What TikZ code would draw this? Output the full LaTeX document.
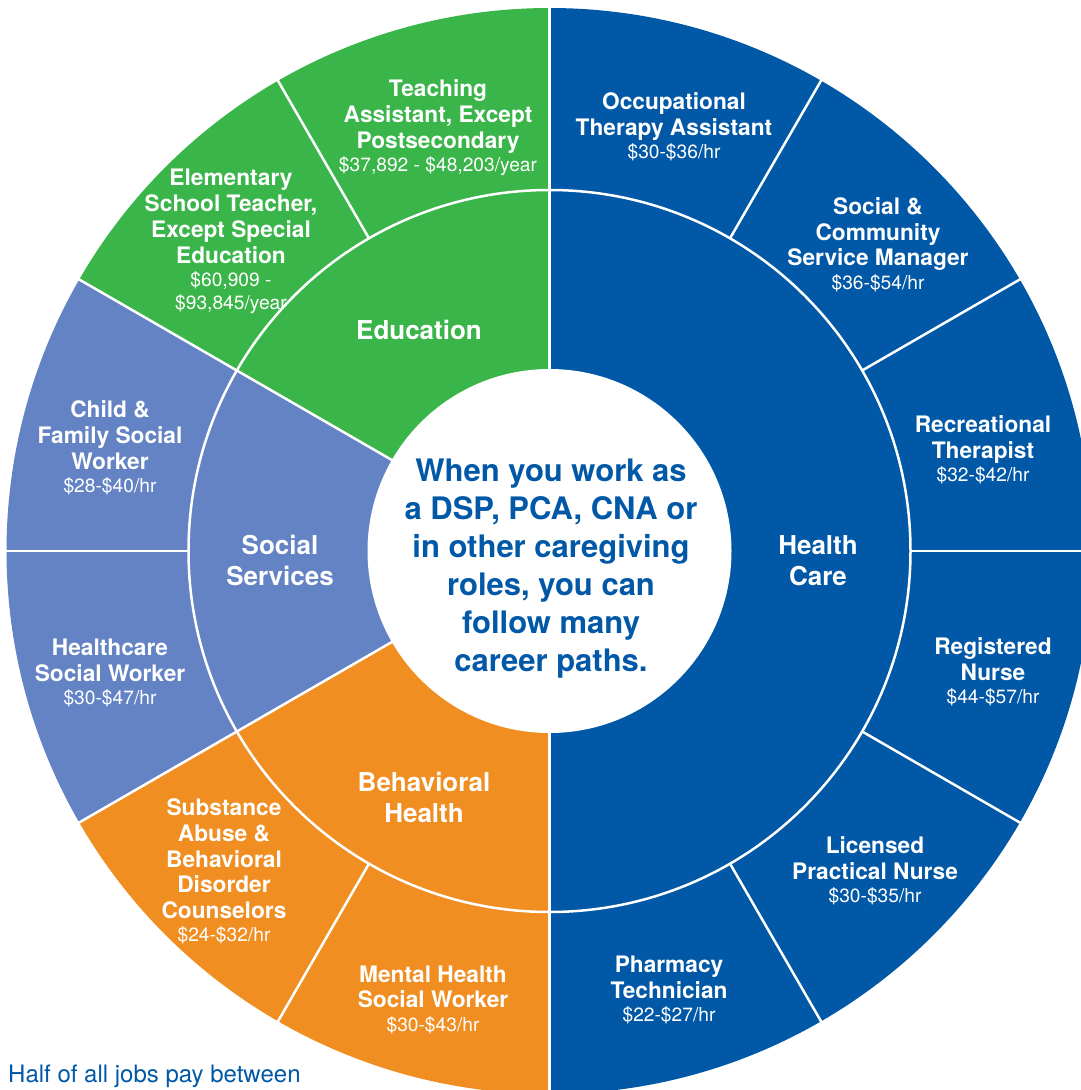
\documentclass[tikz,border=0pt]{standalone}
\usepackage{fontspec}
\setmainfont{TeX Gyre Heros}
\definecolor{hcblue}{RGB}{0,88,167}
\definecolor{edugreen}{RGB}{58,181,74}
\definecolor{ssblue}{RGB}{99,131,196}
\definecolor{bhorange}{RGB}{240,142,34}
\newcommand\salary[1]{{\mdseries\fontsize{19.2}{22}\selectfont #1}}
\begin{document}
\begin{tikzpicture}[x=1pt,y=1pt,
  sep/.style={draw=white,line width=2.5pt},
  joblab/.style={text=white,align=center,font=\bfseries\fontsize{22.7}{25.8}\selectfont,inner sep=0pt},
  catlab/.style={text=white,align=center,font=\bfseries\fontsize{26}{31}\selectfont,inner sep=0pt},
  hublab/.style={text=hcblue,align=center,font=\bfseries\fontsize{31}{38}\selectfont,inner sep=0pt},
  notelab/.style={text=hcblue,font=\fontsize{24}{28}\selectfont,inner sep=0pt,anchor=base west}]
\useasboundingbox (0,0) rectangle (1081,-1090);
\clip (0,0) rectangle (1081,-1090);
\coordinate (c) at (549.5,-551);
% category sectors
\fill[edugreen] (c) -- ++(90:543) arc[start angle=90,end angle=150,radius=543] -- cycle;
\fill[ssblue] (c) -- ++(150:543) arc[start angle=150,end angle=210,radius=543] -- cycle;
\fill[bhorange] (c) -- ++(210:543) arc[start angle=210,end angle=270,radius=543] -- cycle;
\fill[hcblue] (c) -- ++(270:543) arc[start angle=270,end angle=450,radius=543] -- cycle;
% separators
\foreach \a in {0,30,...,330}
  \draw[sep] ([shift={(\a:361)}]c) -- ([shift={(\a:548)}]c);
\draw[sep] (c) circle[radius=361];
\foreach \a in {90,150,210,270}
  \draw[sep] ([shift={(\a:180)}]c) -- ([shift={(\a:361)}]c);
\fill[white] (c) circle[radius=182];
% hub
\node[hublab] (hub) at (551,-569) {When you work as\\a DSP, PCA, CNA or\\in other caregiving\\roles, you can\\follow many\\career paths.};
% categories
\node[catlab] (edu) at (419,-330) {Education};
\node[catlab] (ss) at (280,-560.5) {Social\\Services};
\node[catlab] (bh) at (424,-797.5) {Behavioral\\Health};
\node[catlab] (hc) at (818,-560.5) {Health\\Care};
% jobs
\node[joblab] (ota) at (674,-126.5) {Occupational\\Therapy Assistant\\[-2.5pt]\salary{\$30-\$36/hr}};
\node[joblab] (scsm) at (878,-244.5) {Social \&\\Community\\Service Manager\\[-2.5pt]\salary{\$36-\$54/hr}};
\node[joblab] (rt) at (983,-449.5) {Recreational\\Therapist\\[-2.5pt]\salary{\$32-\$42/hr}};
\node[joblab] (rn) at (993,-672) {Registered\\Nurse\\[-2.5pt]\salary{\$44-\$57/hr}};
\node[joblab] (lpn) at (875,-870.5) {Licensed\\Practical Nurse\\[-2.5pt]\salary{\$30-\$35/hr}};
\node[joblab] (pt) at (669,-990) {Pharmacy\\Technician\\[-2.5pt]\salary{\$22-\$27/hr}};
\node[joblab] (mhsw) at (433,-999.5) {Mental Health\\Social Worker\\[-2.5pt]\salary{\$30-\$43/hr}};
\node[joblab] (sa) at (224,-871.5) {Substance\\Abuse \&\\Behavioral\\Disorder\\Counselors\\[-2.5pt]\salary{\$24-\$32/hr}};
\node[joblab] (hsw) at (110,-673) {Healthcare\\Social Worker\\[-2.5pt]\salary{\$30-\$47/hr}};
\node[joblab] (cfsw) at (110,-448) {Child \&\\Family Social\\Worker\\[-2.5pt]\salary{\$28-\$40/hr}};
\node[joblab] (est) at (231,-241.5) {Elementary\\School Teacher,\\Except Special\\Education\\[-2.5pt]\salary{\$60,909 -}\\[-3pt]\salary{\$93,845/year}};
\node[joblab] (ta) at (438,-128) {Teaching\\Assistant, Except\\Postsecondary\\[-2.5pt]\salary{\$37,892 - \$48,203/year}};
% note
\node[notelab] (note) at (8,-1082) {Half of all jobs pay between};
\end{tikzpicture}
\end{document}
